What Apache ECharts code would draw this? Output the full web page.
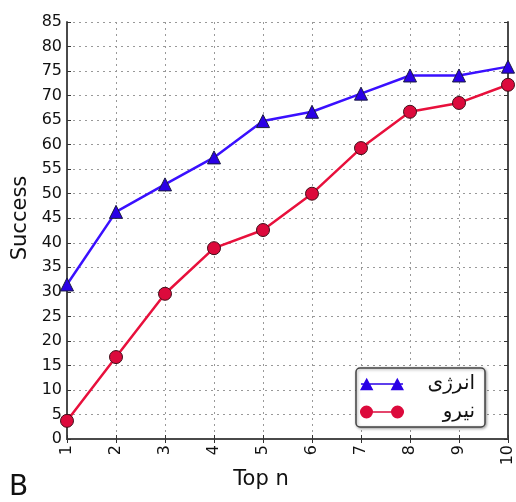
<!DOCTYPE html>
<html><head><meta charset="utf-8">
<script src="https://cdn.jsdelivr.net/npm/echarts@6/dist/echarts.min.js"></script>
<style>html,body{margin:0;padding:0;background:#fff}#c{width:516px;height:502px}</style>
</head><body><div id="c"></div>
<script>
const topN = [1, 2, 3, 4, 5, 6, 7, 8, 9, 10];
const energy = [31.5, 46.3, 51.9, 57.4, 64.8, 66.7, 70.4, 74.1, 74.1, 75.9];
const force = [3.7, 16.7, 29.6, 38.9, 42.6, 50.0, 59.3, 66.7, 68.5, 72.2];
const seriesNames = ['انرژی', 'نیرو'];
const xTitle = 'Top n';
const yTitle = 'Success';
const panelLabel = 'B';
const yTicks = {min: 0, max: 85, interval: 5};
const xTicks = {min: 1, max: 10, interval: 1};

const chart = echarts.init(document.getElementById('c'), null, {renderer: 'canvas'});
const frame = {show: true, lineStyle: {color: '#4a4a4a', width: 2}};
const tick = {show: true, inside: true, length: 4, lineStyle: {color: '#333', width: 1}};
const grid = {show: true, lineStyle: {color: '#999', type: [2, 4], width: 1}};
const font = 'DejaVu Sans';
const triPath = 'path://M0 6.2L44 6.2L44 7.8L0 7.8Z M-1 13.5L6 0.5L13 13.5Z M31 13.5L38 0.5L45 13.5Z';
const cirPath = 'path://M0 6.2L44 6.2L44 7.8L0 7.8Z M0 7A6.5 6.5 0 0 1 13 7A6.5 6.5 0 0 1 0 7Z M31 7A6.5 6.5 0 0 1 44 7A6.5 6.5 0 0 1 31 7Z';

chart.setOption({
  animation: false,
  backgroundColor: '#fff',
  grid: {left: 67, right: 6, top: 22, bottom: 63},
  graphic: [
    {type: 'text', left: 9, top: 474, style: {text: panelLabel, font: '28px "DejaVu Sans"', fill: '#111'}},
    {type: 'text', x: 261, y: 480, style: {text: xTitle, font: '21px "DejaVu Sans"', fill: '#111', align: 'center', verticalAlign: 'middle'}},
    {type: 'text', x: 21, y: 218, rotation: Math.PI / 2, style: {text: yTitle, font: '21px "DejaVu Sans"', fill: '#111', align: 'center', verticalAlign: 'middle'}}
  ],
  legend: {
    orient: 'vertical', right: 31, top: 368,
    data: [
      {name: seriesNames[0], icon: triPath},
      {name: seriesNames[1], icon: cirPath}
    ],
    itemWidth: 44, itemHeight: 14, itemGap: 8,
    padding: [6, 10, 5, 4],
    backgroundColor: '#fff', borderColor: '#444', borderWidth: 1.5, borderRadius: 4,
    shadowBlur: 3, shadowColor: 'rgba(0,0,0,0.35)', shadowOffsetX: 1, shadowOffsetY: 1,
    itemStyle: {borderWidth: 0},
    formatter: name => '{r|' + name + '}',
    textStyle: {fontFamily: font, fontSize: 20, color: '#111',
      rich: {r: {width: 66, align: 'right', fontFamily: font, fontSize: 20, color: '#111'}}}
  },
  xAxis: [{
    type: 'value', min: xTicks.min, max: xTicks.max, interval: xTicks.interval,
    axisLine: frame, axisTick: tick, splitLine: grid,
    axisLabel: {rotate: 90, margin: 6, fontFamily: font, fontSize: 16, color: '#111'}
  }, {
    type: 'value', position: 'top', min: xTicks.min, max: xTicks.max, interval: xTicks.interval,
    axisLine: frame, axisTick: tick, splitLine: {show: false}, axisLabel: {show: false}
  }],
  yAxis: [{
    type: 'value', min: yTicks.min, max: yTicks.max, interval: yTicks.interval,
    axisLine: frame, axisTick: tick, splitLine: grid,
    axisLabel: {margin: 5, fontFamily: font, fontSize: 16, color: '#111'}
  }, {
    type: 'value', position: 'right', min: yTicks.min, max: yTicks.max, interval: yTicks.interval,
    axisLine: frame, axisTick: tick, splitLine: {show: false}, axisLabel: {show: false}
  }],
  series: [{
    name: seriesNames[0], type: 'line',
    data: topN.map((x, i) => [x, energy[i]]),
    symbol: 'triangle', symbolSize: 13,
    lineStyle: {color: '#3a10ff', width: 2.5},
    itemStyle: {color: '#2a00e6', borderColor: '#1a1a40', borderWidth: 1},
    z: 3
  }, {
    name: seriesNames[1], type: 'line',
    data: topN.map((x, i) => [x, force[i]]),
    symbol: 'circle', symbolSize: 13,
    lineStyle: {color: '#e8103c', width: 2.5},
    itemStyle: {color: '#dc0a3c', borderColor: '#40101a', borderWidth: 1},
    z: 2
  }]
});
</script></body></html>
